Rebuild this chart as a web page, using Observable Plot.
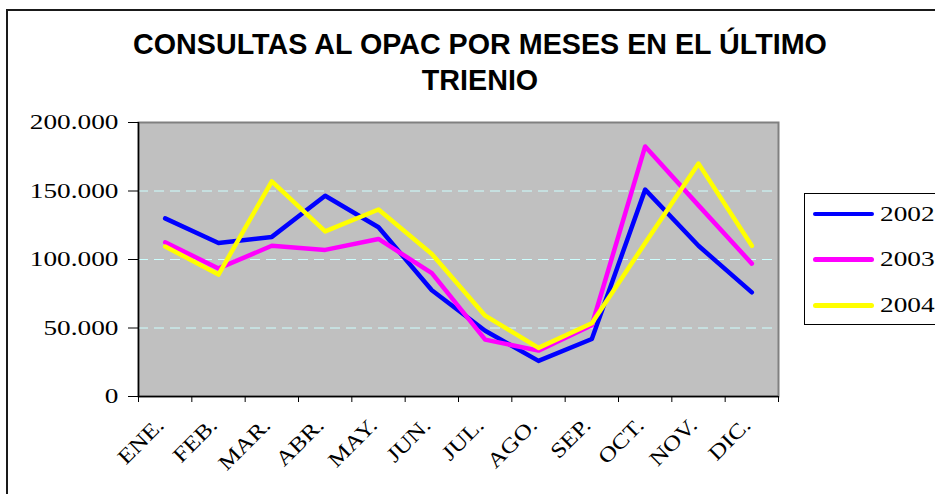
<!DOCTYPE html>
<html><head><meta charset="utf-8">
<script src="https://cdn.jsdelivr.net/npm/d3@7"></script>
<script src="https://cdn.jsdelivr.net/npm/@observablehq/plot@0.6"></script>
<style>
html,body{margin:0;padding:0;background:#fff;overflow:hidden;}
#wrap{position:relative;width:935px;height:494px;overflow:hidden;}
#title{position:absolute;left:0;top:26px;width:960px;text-align:center;font:bold 28.7px "Liberation Sans",Arial,sans-serif;line-height:36px;color:#000;}
.bl{position:absolute;background:#1a1a1a;}
#chart{position:absolute;left:0;top:100px;}
#legend{position:absolute;left:804px;top:193px;width:170px;height:130px;border:1px solid #000;background:#fff;}
.item{position:absolute;left:8px;width:160px;height:24px;}
.swatch{position:absolute;left:0;top:10px;width:61px;height:4.5px;border-radius:2.5px;}
.lab{position:absolute;left:67px;top:0;line-height:24px;font:21px "Liberation Serif","Times New Roman",serif;color:#000;transform:scaleX(1.3);transform-origin:left center;}
</style>
</head><body>
<div id="wrap">
  <div class="bl" style="left:6px;top:9px;width:1.5px;height:485px;"></div>
  <div class="bl" style="left:6px;top:9px;width:929px;height:1.5px;"></div>
  <div id="title">CONSULTAS AL OPAC POR MESES EN EL ÚLTIMO<br>TRIENIO</div>
  <div id="chart"></div>
  <div id="legend"></div>
</div>
<script>
const months = ["ENE.","FEB.","MAR.","ABR.","MAY.","JUN.","JUL.","AGO.","SEP.","OCT.","NOV.","DIC."];
const years = ["2002","2003","2004"];
const colors = ["#0000ff","#ff00ff","#ffff00"];
const v2002 = [130000,112000,116500,146500,123500,77500,48000,26000,42000,151000,110000,76000];
const v2003 = [112500,93500,110000,107000,115000,90000,41500,33500,52000,182500,139500,97000];
const v2004 = [109500,89000,157000,120500,136500,104000,59000,35500,53500,112000,170000,110000];
const yTicks = [0,50000,100000,150000,200000];

const series = {"2002": v2002, "2003": v2003, "2004": v2004};
const data = [];
for (const yr of years) series[yr].forEach((v, i) => data.push({year: yr, month: months[i], i, value: v}));

const fmt = d => d === 0 ? "0" : d3.format(",.0f")(d).replace(/,/g, ".");
const serif = "'Liberation Serif','Times New Roman',serif";

const svg = Plot.plot({
  width: 935, height: 394,
  marginTop: 22, marginBottom: 98, marginLeft: 138, marginRight: 157,
  x: {type: "linear", domain: [0, 12]},
  y: {domain: [0, 200000]},
  color: {domain: years, range: colors},
  style: {fontFamily: serif, fontSize: "21px", color: "#000", background: "transparent", overflow: "visible"},
  marks: [
    Plot.frame({fill: "#c0c0c0", stroke: "#808080", strokeWidth: 2}),
    Plot.ruleY(yTicks.filter(d => d > 0 && d < 200000), {stroke: "#ccffff", strokeDasharray: "10,6", strokeWidth: 1}),
    Plot.ruleX([0], {stroke: "#000", strokeWidth: 1.5}),
    Plot.ruleY([0], {stroke: "#000", strokeWidth: 1.5}),
    Plot.axisY({ticks: yTicks, tickSize: 10, tickPadding: 10, tickFormat: fmt, label: null, stroke: "#000", fontSize: 21, fontFamily: serif}),
    Plot.axisX({ticks: d3.range(13), tickSize: 6, tickFormat: () => "", label: null, stroke: "#000"}),
    Plot.axisX({ticks: months.map((m, i) => i + 0.5), tickSize: 0, tickPadding: 30, tickRotate: -45, tickFormat: d => months[Math.floor(d)], label: null, fontSize: 21, fontFamily: serif}),
    Plot.line(data, {x: d => d.i + 0.5, y: "value", z: "year", stroke: "year", strokeWidth: 4.5, strokeLinejoin: "round", strokeLinecap: "round"})
  ]
});
document.getElementById("chart").appendChild(svg);

// widen the serif tick labels horizontally, as in the original
svg.querySelectorAll('g[aria-label="y-axis tick label"] text').forEach(t => {
  const tr = t.getAttribute("transform") || "";
  t.setAttribute("transform", tr + " scale(1.3,1)");
});
svg.querySelectorAll('g[aria-label="x-axis tick label"] text').forEach(t => {
  let tr = t.getAttribute("transform") || "";
  t.removeAttribute("x"); t.removeAttribute("y");
  t.setAttribute("transform", tr + " scale(1.2,1)");
});

const leg = document.getElementById("legend");
const rowTops = [7.7, 53, 99];
years.forEach((yr, k) => {
  const it = document.createElement("div");
  it.className = "item";
  it.style.top = rowTops[k] + "px";
  it.innerHTML = `<div class="swatch" style="background:${colors[k]}"></div><div class="lab">${yr}</div>`;
  leg.appendChild(it);
});
</script>
</body></html>
